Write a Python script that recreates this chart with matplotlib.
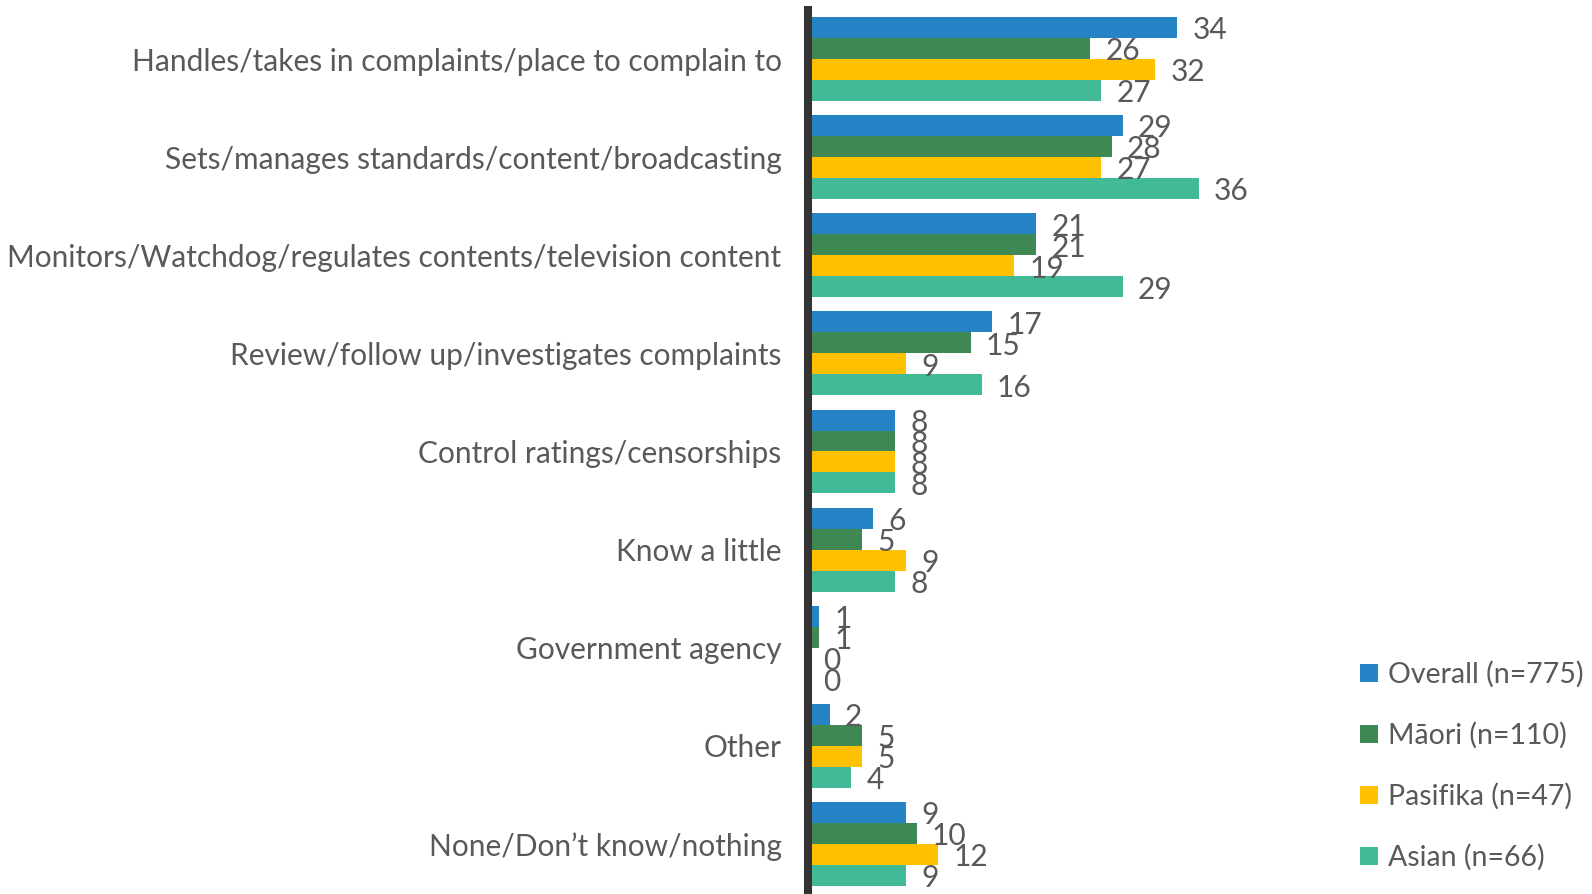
import matplotlib.pyplot as plt
import numpy as np

categories = [
    "Handles/takes in complaints/place to complain to",
    "Sets/manages standards/content/broadcasting",
    "Monitors/Watchdog/regulates contents/television content",
    "Review/follow up/investigates complaints",
    "Control ratings/censorships",
    "Know a little",
    "Government agency",
    "Other",
    "None/Don\u2019t know/nothing",
]
series_names = ["Overall (n=775)", "M\u0101ori (n=110)", "Pasifika (n=47)", "Asian (n=66)"]
overall = [34, 29, 21, 17, 8, 6, 1, 2, 9]
maori = [26, 28, 21, 15, 8, 5, 1, 5, 10]
pasifika = [32, 27, 19, 9, 8, 9, 0, 5, 12]
asian = [27, 36, 29, 16, 8, 8, 0, 4, 9]

colors = ["#2683C6", "#3E8853", "#FFC000", "#43BA97"]
text_grey = "#595959"

plt.rcParams['font.family'] = ['Lato', 'DejaVu Sans']

fig = plt.figure(figsize=(15.92, 8.94), dpi=100)
W, H = 1592, 894
ax = fig.add_axes([808 / W, 1 - 893 / H, 434 / W, 883 / H])

y = np.arange(len(categories))
bh = 0.214
for k, (vals, name, col) in enumerate(zip([overall, maori, pasifika, asian], series_names, colors)):
    bars = ax.barh(y + (k - 1.5) * bh, vals, height=bh, color=col, label=name)
    texts = ax.bar_label(bars, labels=[str(v) for v in vals], padding=11,
                         fontsize=21.5, color=text_grey)
    # nudge the value labels a touch below the bar centre
    for t in texts:
        t.xyann = (t.xyann[0], -2)

ax.set_xlim(0, 40)
ax.set_ylim(len(categories) - 0.5, -0.5)
ax.set_yticks(y)
ax.set_yticklabels(categories, fontsize=21.5, color=text_grey)
ax.tick_params(axis='y', length=0, pad=19)
ax.set_xticks([])
for s in ['top', 'right', 'bottom']:
    ax.spines[s].set_visible(False)
ax.spines['left'].set_linewidth(5.8)
ax.spines['left'].set_color("#333333")

handles, labels = ax.get_legend_handles_labels()
fig.legend(handles, labels, loc='center left', bbox_to_anchor=(1360 / W, 1 - 766 / H),
           frameon=False, fontsize=20.5, labelcolor=text_grey,
           handlelength=0.62, handleheight=0.62, handletextpad=0.35,
           labelspacing=1.2, borderpad=0, borderaxespad=0)

fig.savefig("out.png", dpi=100)
